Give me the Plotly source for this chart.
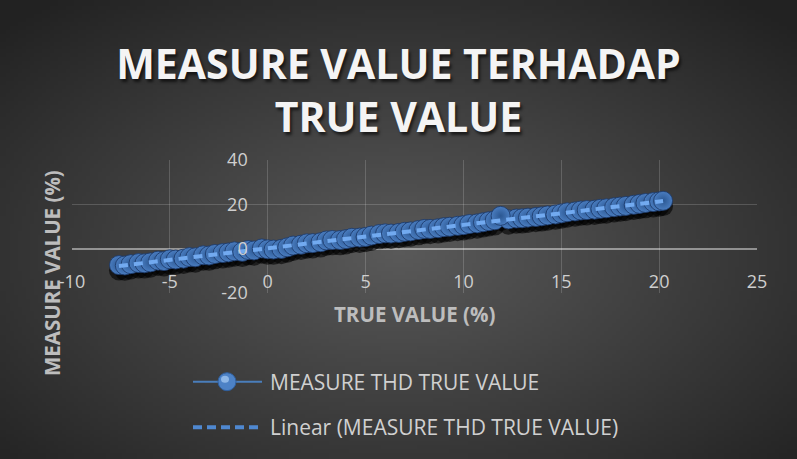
import zlib, struct, base64
import numpy as np
import plotly.graph_objects as go

# ---------------- data ----------------
true_value = [-7.6, -7.3, -7.0, -6.6, -6.3, -6.0, -5.6, -5.3, -5.0, -4.7,
              -4.3, -4.0, -3.7, -3.3, -3.0, -2.7, -2.3, -2.0, -1.7, -1.3,
              -1.0, -0.7, -0.3, 0.0, 0.3, 0.7, 1.0, 1.3, 1.7, 2.0,
              2.3, 2.7, 3.0, 3.3, 3.7, 4.0, 4.3, 4.7, 5.0, 5.3,
              5.7, 6.0, 6.3, 6.7, 7.0, 7.3, 7.7, 8.0, 8.3, 8.7,
              9.0, 9.3, 9.7, 10.0, 10.3, 10.7, 11.0, 11.3, 11.6, 12.3,
              12.7, 13.0, 13.3, 13.7, 14.0, 14.3, 14.7, 15.0, 15.3, 15.7,
              16.0, 16.3, 16.7, 17.0, 17.3, 17.7, 18.0, 18.3, 18.7, 19.0,
              19.3, 19.7, 20.0, 11.9, 20.2]
measure_value = [-7.4, -7.6, -7.0, -6.5, -6.6, -6.2, -5.4, -5.6, -4.8, -4.9,
                 -4.5, -3.8, -3.9, -3.0, -3.1, -2.4, -2.0, -1.7, -1.2, -1.4,
                 -0.6, -0.8, 0.1, -0.3, -0.4, -0.1, 0.6, 1.4, 1.8, 2.4,
                 2.5, 2.9, 3.7, 3.9, 3.9, 4.3, 4.9, 5.0, 5.3, 5.9,
                 6.6, 6.9, 6.8, 7.1, 7.6, 7.8, 8.4, 8.9, 8.9, 9.2,
                 9.7, 9.9, 10.3, 10.6, 11.1, 11.4, 11.9, 12.4, 12.8, 13.2,
                 13.6, 13.7, 14.0, 14.3, 14.6, 15.0, 15.4, 15.9, 16.4, 16.8,
                 17.2, 17.4, 17.6, 18.0, 18.2, 18.7, 19.0, 19.3, 19.8, 20.2,
                 20.6, 21.0, 21.3, 14.8, 21.6]
series_name = "MEASURE THD TRUE VALUE"
trend_name = "Linear (MEASURE THD TRUE VALUE)"
x_ticks = [-10, -5, 0, 5, 10, 15, 20, 25]
y_ticks = [-20, 0, 20, 40]

# ---------------- geometry ----------------
W, H = 797, 459
L, R, T, B = 72, 40, 160, 166
PW, PH = W - L - R, H - T - B

def px_x(px):
    return (px - L) / PW

def px_y(py):
    return (H - B - py) / PH

# ---------------- background radial gradient ----------------
def png_data_uri(arr):
    h, w, _ = arr.shape
    raw = b''.join(b'\x00' + arr[i].tobytes() for i in range(h))
    def chunk(t, d):
        c = struct.pack('>I', len(d)) + t + d
        return c + struct.pack('>I', zlib.crc32(t + d) & 0xffffffff)
    png = (b'\x89PNG\r\n\x1a\n'
           + chunk(b'IHDR', struct.pack('>IIBBBBB', w, h, 8, 2, 0, 0, 0))
           + chunk(b'IDAT', zlib.compress(raw, 9))
           + chunk(b'IEND', b''))
    return 'data:image/png;base64,' + base64.b64encode(png).decode()

gw, gh = 200, 116
yy, xx = np.mgrid[0:gh, 0:gw]
dx = (xx + 0.5) / gw - 0.5
dy = (yy + 0.5) / gh - 0.55
r = np.clip(np.sqrt(dx ** 2 + dy ** 2) / np.sqrt(0.5), 0, 1)
val = 90 - (90 - 34) * r
img = np.repeat(val[:, :, None], 3, axis=2).astype(np.uint8)
bg_uri = png_data_uri(img)

# ---------------- traces ----------------
fig = go.Figure()

shadow_y = [v - 2.4 for v in measure_value]
fig.add_trace(go.Scatter(
    x=true_value, y=shadow_y, mode="markers", showlegend=False, hoverinfo="skip",
    marker=dict(size=20, color="rgba(0,0,0,0.6)", line=dict(width=0))))

fig.add_trace(go.Scatter(
    x=true_value, y=measure_value, mode="lines+markers", name=series_name,
    showlegend=False,
    line=dict(color="#4a7ebb", width=2),
    marker=dict(size=19, color="#4a7dc0",
                gradient=dict(type="radial", color="#2b5792"),
                line=dict(color="rgba(28,58,106,0.85)", width=1))))

coef = np.polyfit(true_value, measure_value, 1)
tx = [float(min(true_value)), float(max(true_value))]
ty = [float(v) for v in np.polyval(coef, tx)]
fig.add_trace(go.Scatter(
    x=tx, y=ty, mode="lines", name=trend_name, showlegend=False,
    line=dict(color="#72aaf0", width=4, dash="9px,6px")))

# ---------------- legend (drawn by hand) ----------------
shapes = []
ann = []
leg_x0, leg_x1 = px_x(193), px_x(262)
row1, row2 = px_y(381.7), px_y(427.3)
shapes.append(dict(type="line", xref="paper", yref="paper", x0=leg_x0, x1=leg_x1,
                   y0=row1, y1=row1, line=dict(color="#4a7ebb", width=2)))
mx = px_x(227)
shapes.append(dict(type="circle", xref="paper", yref="paper", xsizemode="pixel",
                   ysizemode="pixel", xanchor=mx, yanchor=row1, x0=-9, x1=9, y0=-9, y1=9,
                   fillcolor="#4d82c6", line=dict(color="#2f5f9e", width=1)))
shapes.append(dict(type="circle", xref="paper", yref="paper", xsizemode="pixel",
                   ysizemode="pixel", xanchor=mx, yanchor=row1, x0=-6, x1=2, y0=-1, y1=6,
                   fillcolor="rgba(170,205,245,0.7)", line=dict(width=0)))
shapes.append(dict(type="line", xref="paper", yref="paper", x0=leg_x0, x1=leg_x1,
                   y0=row2, y1=row2, line=dict(color="#4f88d0", width=4, dash="9px,5px")))
leg_font = dict(family="Open Sans", size=21, color="#d0d0d0")
ann.append(dict(text=series_name, xref="paper", yref="paper", x=px_x(268), y=row1,
                xanchor="left", yanchor="middle", showarrow=False, font=leg_font))
ann.append(dict(text=trend_name, xref="paper", yref="paper", x=px_x(268), y=row2,
                xanchor="left", yanchor="middle", showarrow=False, font=leg_font))

# axis titles
ax_font = dict(family="Open Sans", size=20.5, color="#bdbdbd", weight="bold")
ann.append(dict(text="TRUE VALUE (%)", xref="paper", yref="paper", x=px_x(414), y=px_y(314),
                xanchor="center", yanchor="middle", showarrow=False, font=ax_font))
ann.append(dict(text="MEASURE VALUE (%)", xref="paper", yref="paper", x=px_x(52), y=px_y(273),
                xanchor="center", yanchor="middle", showarrow=False, textangle=-90, font=ax_font))

grid = "rgba(255,255,255,0.17)"
tick_font = dict(family="Open Sans", size=18, color="#cfcfcf")

fig.update_layout(
    width=W, height=H,
    margin=dict(l=L, r=R, t=T, b=B),
    paper_bgcolor="#333333", plot_bgcolor="rgba(0,0,0,0)",
    images=[dict(source=bg_uri, xref="paper", yref="paper", x=-L / PW, y=(H - B) / PH,
                 sizex=W / PW, sizey=H / PH, xanchor="left", yanchor="top",
                 sizing="stretch", layer="below")],
    title=dict(text="MEASURE VALUE TERHADAP<br>TRUE VALUE", x=0.5, xanchor="center",
               xref="container", yref="container", y=1 - 78.5 / H, yanchor="middle",
               font=dict(family="Open Sans", size=41, color="#f4f4f4", weight="bold",
                         shadow="2px 3px 3px rgba(0,0,0,0.6)")),
    xaxis=dict(range=[-10, 25], tickvals=x_ticks, ticktext=[str(v) for v in x_ticks],
               showgrid=True, gridcolor=grid, gridwidth=1, zeroline=False,
               showline=False, ticks="", anchor="free", position=1 / 3,
               tickfont=tick_font, ticklabelstandoff=20, fixedrange=True),
    yaxis=dict(range=[-20, 40], tickvals=y_ticks, ticktext=[str(v) for v in y_ticks],
               showgrid=True, gridcolor=grid, gridwidth=1, zeroline=True,
               zerolinecolor="rgba(255,255,255,0.45)", zerolinewidth=1.5,
               showline=False, ticks="", anchor="free", position=10 / 35,
               tickfont=tick_font, ticklabelstandoff=20, fixedrange=True),
    shapes=shapes,
    annotations=ann,
    showlegend=False,
)

fig.write_html("out.html", config={"displayModeBar": False},
               post_script="document.body.style.margin='0';")
